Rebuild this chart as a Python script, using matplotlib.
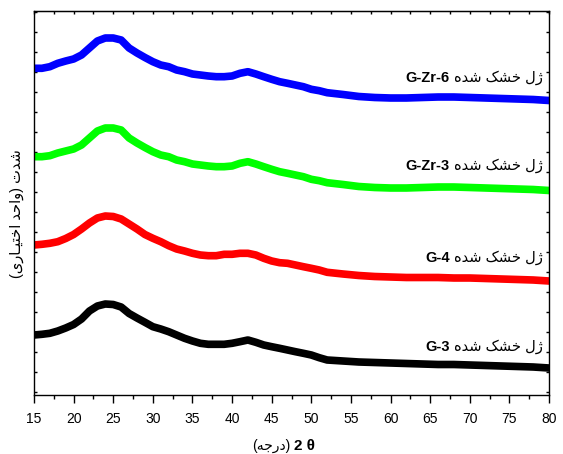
import matplotlib
matplotlib.use("Agg")
import matplotlib.pyplot as plt
from matplotlib.ticker import MultipleLocator
import numpy as np

two_theta = list(range(15, 53)) + list(range(54, 81, 2))

# intensities (arbitrary units, already stacked as in the figure)
g_zr6 = [326.7, 326.7, 328.3, 331.7, 334.0, 336.0, 340.0, 347.0, 354.0, 357.0,
         357.0, 355.0, 347.0, 342.0, 337.5, 333.3, 330.0, 328.3, 325.0, 323.3,
         321.0, 320.0, 319.0, 318.3, 318.3, 319.0, 321.7, 323.3, 321.0, 318.3,
         315.7, 313.3, 311.7, 310.0, 308.3, 305.7, 304.3, 302.3,
         300.5, 298.5, 297.5, 297.0, 297.0, 297.5, 298.0, 298.0, 297.5, 297.0,
         296.5, 296.0, 295.5, 294.5]
g_zr3 = [238.3, 238.3, 239.3, 242.0, 244.0, 246.0, 250.0, 257.0, 264.0, 267.0,
         267.0, 265.0, 257.0, 252.0, 247.5, 243.3, 240.0, 238.3, 235.0, 233.3,
         231.0, 230.0, 229.0, 228.3, 228.3, 229.0, 231.7, 233.3, 231.0, 228.3,
         225.7, 223.3, 221.7, 220.0, 218.3, 215.7, 214.3, 212.3,
         210.5, 208.5, 207.5, 207.0, 207.0, 207.5, 208.0, 208.0, 207.5, 207.0,
         206.5, 206.0, 205.5, 204.5]
g_4 = [150.0, 150.7, 151.7, 153.3, 156.5, 160.5, 166.0, 172.0, 177.0, 179.0,
       178.5, 176.0, 171.0, 166.0, 160.5, 156.7, 153.3, 149.3, 146.0, 144.0,
       141.7, 140.0, 139.3, 139.3, 140.7, 140.7, 141.7, 141.7, 140.0, 136.7,
       134.0, 132.3, 131.7, 130.0, 128.3, 126.7, 125.0, 122.7,
       121.0, 119.5, 118.5, 118.0, 117.5, 117.5, 117.5, 117.0, 117.0, 116.5,
       116.0, 115.5, 115.0, 114.0]
g_3 = [60.0, 60.7, 61.7, 64.0, 67.0, 70.5, 76.0, 84.0, 89.0, 91.0,
       90.5, 88.0, 81.5, 77.0, 72.7, 68.3, 66.0, 63.3, 60.0, 56.7,
       54.0, 51.7, 50.7, 50.7, 50.7, 51.7, 53.3, 55.0, 52.7, 50.0,
       48.3, 46.7, 45.0, 43.3, 41.7, 40.0, 37.3, 35.0,
       34.0, 33.0, 32.5, 32.0, 31.5, 31.0, 30.5, 30.5, 30.0, 29.5,
       29.0, 28.5, 28.0, 27.0]

series = [g_zr6, g_zr3, g_4, g_3]
names = ["G-Zr-6", "G-Zr-3", "G-4", "G-3"]
colors = ["#0000ff", "#00ff00", "#ff0000", "#000000"]
label_y = [317, 229, 137, 48]

sample_fa = "ژل خشک شده"
ylabel_fa = "شدت (واحد اختیـاری)"
xlabel_fa = "(درجه)"

# minimal Persian shaping (matplotlib has no bidi / joining support)
FORMS = {
    'ا': ('\uFE8D', '\uFE8E', None, None),
    'د': ('\uFEA9', '\uFEAA', None, None),
    'ر': ('\uFEAD', '\uFEAE', None, None),
    'ژ': ('\uFB8A', '\uFB8B', None, None),
    'و': ('\uFEED', '\uFEEE', None, None),
    'ل': ('\uFEDD', '\uFEDE', '\uFEDF', '\uFEE0'),
    'خ': ('\uFEA5', '\uFEA6', '\uFEA7', '\uFEA8'),
    'ش': ('\uFEB5', '\uFEB6', '\uFEB7', '\uFEB8'),
    'ک': ('\uFB8E', '\uFB8F', '\uFB90', '\uFB91'),
    'ه': ('\uFEE9', '\uFEEA', '\uFEEB', '\uFEEC'),
    'ت': ('\uFE95', '\uFE96', '\uFE97', '\uFE98'),
    'ح': ('\uFEA1', '\uFEA2', '\uFEA3', '\uFEA4'),
    'ج': ('\uFE9D', '\uFE9E', '\uFE9F', '\uFEA0'),
    'ی': ('\uFBFC', '\uFBFD', '\uFBFE', '\uFBFF'),
}
TATWEEL = '\u0640'


def JoinsForward(c):
    return c == TATWEEL or (c in FORMS and FORMS[c][2] is not None)


def IsJoining(c):
    return c == TATWEEL or c in FORMS


def ShapeFa(s):
    out = []
    for i, c in enumerate(s):
        if c not in FORMS:
            out.append(c)
            continue
        prev = s[i - 1] if i > 0 else ''
        nxt = s[i + 1] if i + 1 < len(s) else ''
        p = JoinsForward(prev)
        n = FORMS[c][2] is not None and IsJoining(nxt)
        iso, fin, ini, med = FORMS[c]
        if p and n:
            out.append(med)
        elif p:
            out.append(fin)
        elif n:
            out.append(ini)
        else:
            out.append(iso)
    vis = ''.join(reversed(out))
    return vis.translate(str.maketrans('()', ')('))


FA_FAMILY = ['Liberation Sans', 'DejaVu Sans']
plt.rcParams['font.family'] = FA_FAMILY

W, H = 563, 454
fig = plt.figure(figsize=(W / 100, H / 100), dpi=100)
ax = fig.add_axes([34 / W, 1 - 395 / H, 515 / W, 384 / H])

for ys, c in zip(series, colors):
    ax.plot(two_theta, ys, color=c, lw=5.5, solid_joinstyle='round')

for nm, ly in zip(names, label_y):
    t = ax.text(79.2, ly, ShapeFa(sample_fa), ha='right', va='center',
                fontsize=10.5, family=FA_FAMILY)
    ax.annotate(nm, xy=(0, 0.5), xycoords=t, xytext=(-3, 0),
                textcoords='offset points', ha='right', va='center',
                fontsize=10.5, fontweight='bold', family='Liberation Sans')

ax.set_xlim(15, 80)
ax.set_ylim(0, 384)
ax.xaxis.set_major_locator(MultipleLocator(5))
ax.xaxis.set_minor_locator(MultipleLocator(2.5))
ax.set_yticks(np.arange(3.3, 384, 20))
ax.set_yticklabels([])
ax.tick_params(axis='x', which='major', direction='out', length=6, width=1,
               labelsize=10, pad=6, top=False)
ax.tick_params(axis='x', which='minor', direction='out', length=3, width=1, top=False)
ax.tick_params(axis='y', which='major', direction='in', length=2.5, width=1,
               left=True, right=True)

# short inward ticks along the top edge
sec = ax.secondary_xaxis('top')
sec.xaxis.set_major_locator(MultipleLocator(2.5))
sec.tick_params(direction='in', length=2.5, width=1, labeltop=False)

for s in ax.spines.values():
    s.set_linewidth(1.0)

# axis titles
fig.text(294 / W, 1 - 446 / H, "2 θ", ha='left', va='center',
         fontsize=11, fontweight='bold', family='Liberation Sans')
fig.text(290 / W, 1 - 446 / H, ShapeFa(xlabel_fa), ha='right', va='center',
         fontsize=10, family=FA_FAMILY)
fig.text(17 / W, 1 - 214 / H, ShapeFa(ylabel_fa), rotation=90, ha='center',
         va='center', fontsize=10.5, family=FA_FAMILY)

fig.savefig("out.png", dpi=100)
